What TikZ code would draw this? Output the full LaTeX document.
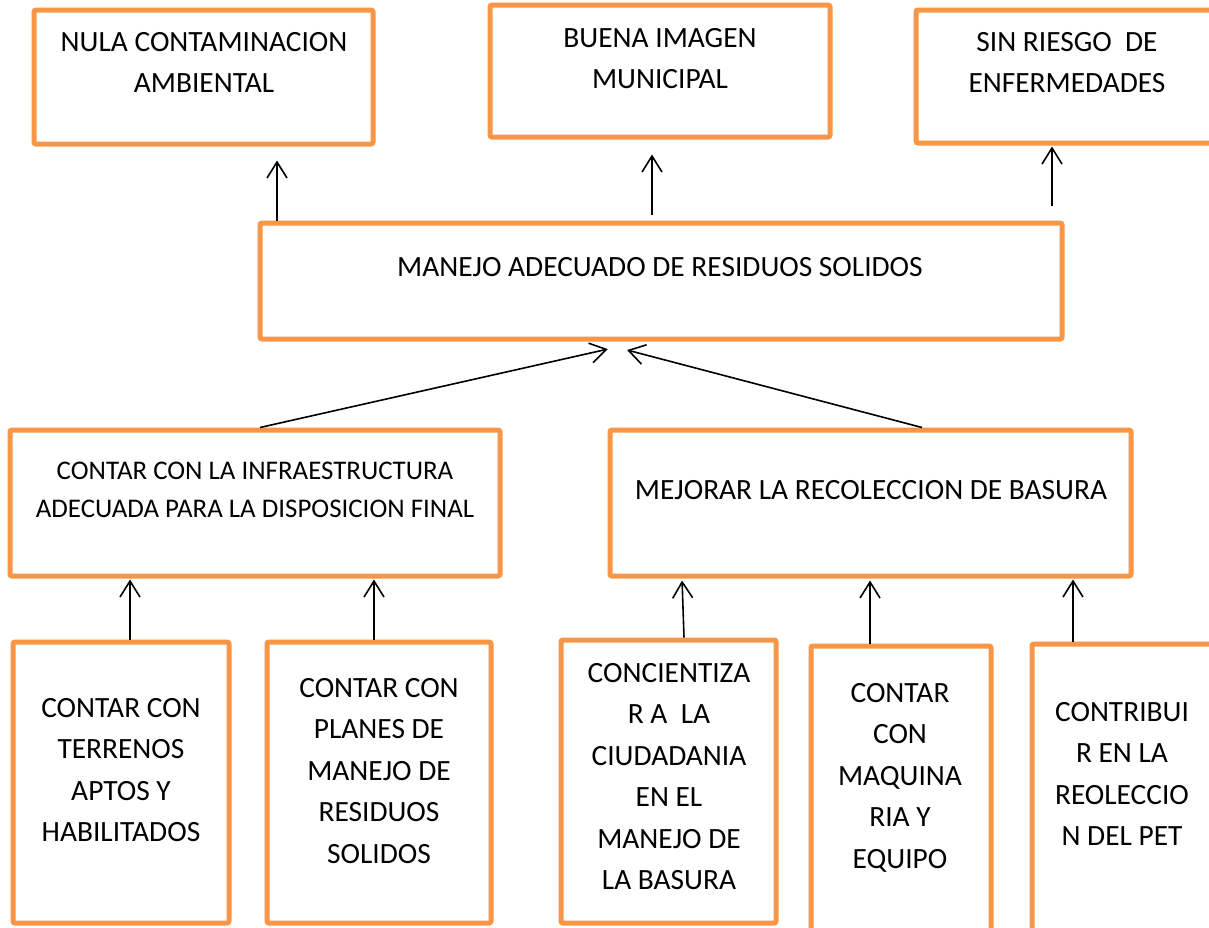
\documentclass[tikz,border=0pt]{standalone}
\usepackage{fontspec}
\setmainfont{Carlito}
\usetikzlibrary{arrows.meta, positioning}
\definecolor{naranja}{RGB}{247,150,70}

\begin{document}
\begin{tikzpicture}[
  x=1pt, y=-1pt,
  font=\fontsize{29.4}{41.5}\selectfont,
  caja/.style={draw=naranja, line width=5pt, rounded corners=2pt, inner sep=0pt},
  txt/.style={anchor=north, inner sep=0pt, align=center},
  chico/.style={txt, font=\fontsize{26.9}{38}\selectfont},
  flecha/.style={-{Straight Barb[length=16pt, width=20pt]}, line width=1.6pt, black},
]
\clip (0,0) rectangle (1209,927);
\fill[white] (0,0) rectangle (1209,927);
% fines (top row)
\node[caja, minimum width=339pt, minimum height=134pt] (nula) at (203.5,77) {};
\node[caja, minimum width=340pt, minimum height=132pt] (buena) at (660,71) {};
\node[caja, minimum width=303pt, minimum height=133pt] (sin) at (1067.5,76.5) {};
\node[txt] (t-nula) at (204,32) {NULA CONTAMINACION\\AMBIENTAL};
\node[txt] (t-buena) at (660,28) {BUENA IMAGEN\\MUNICIPAL};
\node[txt] (t-sin) at (1067,32) {SIN RIESGO\ \ DE\\ENFERMEDADES};
% objetivo central
\node[caja, minimum width=802pt, minimum height=116pt] (manejo) at (661,281) {};
\node[txt] (t-manejo) at (660,257) {MANEJO ADECUADO DE RESIDUOS SOLIDOS};
% medios
\node[caja, minimum width=490pt, minimum height=146pt] (infra) at (255,503) {};
\node[caja, minimum width=521pt, minimum height=146pt] (mejorar) at (870.5,503) {};
\node[chico] (t-infra) at (255,462)
  {CONTAR CON LA INFRAESTRUCTURA\\ADECUADA PARA LA DISPOSICION FINAL};
\node[txt] (t-mejorar) at (871,480) {MEJORAR LA RECOLECCION DE BASURA};
% acciones (bottom row)
\node[caja, minimum width=216pt, minimum height=281pt] (terrenos) at (121,782.5) {};
\node[caja, minimum width=224pt, minimum height=281pt] (planes) at (379,782.5) {};
\node[caja, minimum width=215pt, minimum height=283pt] (conc) at (668.5,781.5) {};
\node[caja, minimum width=180pt, minimum height=320pt] (maq) at (901,806) {};
\node[caja, minimum width=182pt, minimum height=320pt] (contr) at (1123,804) {};
\node[txt] (t-terrenos) at (121,698) {CONTAR CON\\TERRENOS\\APTOS Y\\HABILITADOS};
\node[txt] (t-planes) at (379,678) {CONTAR CON\\PLANES DE\\MANEJO DE\\RESIDUOS\\SOLIDOS};
\node[txt] (t-conc) at (669,663)
  {CONCIENTIZA\\R A\ \ LA\\CIUDADANIA\\EN EL\\MANEJO DE\\LA BASURA};
\node[txt] (t-maq) at (900,683) {CONTAR\\CON\\MAQUINA\\RIA Y\\EQUIPO};
\node[txt] (t-contr) at (1122,702) {CONTRIBUI\\R EN LA\\REOLECCIO\\N DEL PET};
% flechas hacia los fines
\draw[flecha, shorten >=14pt] (277,0 |- manejo.north) -- (277,0 |- nula.south);
\draw[flecha, shorten <=6pt, shorten >=15pt] (652,0 |- manejo.north) -- (652,0 |- buena.south);
\draw[flecha, shorten <=15pt, shorten >=1pt] (1052,0 |- manejo.north) -- (1052,0 |- sin.south);
% medios al objetivo
\draw[flecha, shorten >=34.5pt] (260,0 |- infra.north) -- (641.5,0 |- manejo.south);
\draw[flecha, shorten >=33.6pt] (922,0 |- mejorar.north) -- (594.6,0 |- manejo.south);
% acciones a los medios
\draw[flecha, shorten >=1pt] (130,0 |- terrenos.north) -- (130,0 |- infra.south);
\draw[flecha, shorten >=1pt] (374,0 |- planes.north) -- (374,0 |- infra.south);
\draw[flecha, shorten >=2pt] (684,0 |- conc.north) -- (682,0 |- mejorar.south);
\draw[flecha, shorten >=2pt] (870,0 |- maq.north) -- (870,0 |- mejorar.south);
\draw[flecha, shorten >=1pt] (1073,0 |- contr.north) -- (1073,0 |- mejorar.south);
\end{tikzpicture}
\end{document}
